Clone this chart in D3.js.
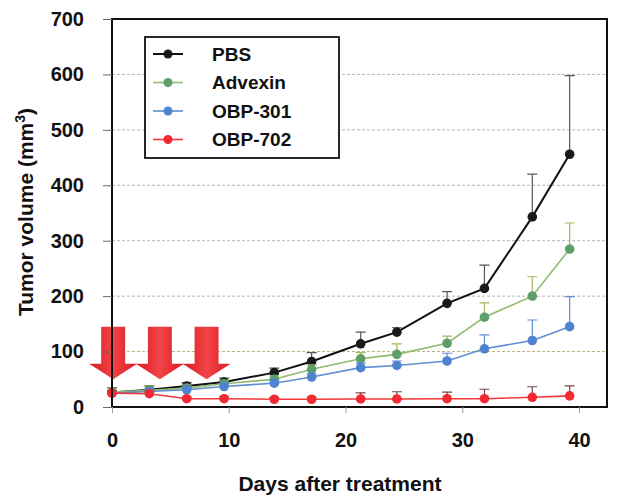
<!DOCTYPE html>
<html>
<head>
<meta charset="utf-8">
<script src="https://cdn.jsdelivr.net/npm/d3@7"></script>
<style>
  body { margin: 0; background: #fff; }
  text { font-family: "Liberation Sans", Arial, sans-serif; font-weight: bold; fill: #111; }
</style>
</head>
<body>
<script>
// days (points sit slightly right of the nominal treatment days)
var days = [0, 3.2, 6.4, 9.6, 13.9, 17.1, 21.3, 24.4, 28.7, 31.9, 36.0, 39.2];

var pbs      = [26, 31, 38, 45, 62, 82, 114, 135, 187, 214, 343, 456];
var pbsErr   = [9, 7, 6, 7, 8, 16, 21, 8, 21, 42, 77, 142];
var advexin  = [27, 30, 34, 42, 50, 68, 87, 95, 115, 162, 200, 285];
var advErr   = [7, 8, 6, 6, 6, 8, 11, 19, 13, 26, 35, 47];
var obp301   = [25, 28, 31, 37, 43, 54, 71, 75, 83, 105, 120, 145];
var obp301Err= [4, 4, 5, 5, 5, 6, 8, 8, 14, 25, 37, 54];
var obp702   = [25, 24, 15, 15, 14, 14, 14.5, 14.5, 15, 15, 17.5, 20];
var obp702Err= [4, 3, 3, 3, 3, 4, 11, 13, 12, 17, 19, 18];

var names = ["PBS", "Advexin", "OBP-301", "OBP-702"];

var yTicks = [0, 100, 200, 300, 400, 500, 600, 700];
var xTicks = [0, 10, 20, 30, 40];

// treatment arrows (day, and volume levels for top / neck / tip)
var arrowDays = [0.1, 4.1, 8.1];
var arrowTop = 145, arrowNeck = 78, arrowTip = 50;

var width = 632, height = 503;
var margin = {left: 112, right: 25, top: 18, bottom: 96};

var svg = d3.select("body").append("svg")
  .attr("width", width)
  .attr("height", height);

var x = d3.scaleLinear().domain([0, 40]).range([112, 579]);
var y = d3.scaleLinear().domain([0, 700]).range([407, 19]);
var plotRight = width - margin.right; // frame extends past the 40 tick

var series = [
  {name: names[0], values: pbs, err: pbsErr, line: "#111", dot: "#1a1a1a", bar: "#555", lw: 2},
  {name: names[1], values: advexin, err: advErr, line: "#8fbb6c", dot: "#5e9e6a", bar: "#a3b85a", lw: 1.6},
  {name: names[2], values: obp301, err: obp301Err, line: "#5d8fd2", dot: "#4f82cf", bar: "#5d8fd2", lw: 1.6},
  {name: names[3], values: obp702, err: obp702Err, line: "#f0383a", dot: "#f02a30", bar: "#7a4444", lw: 1.6}
];

// gridlines
svg.append("g").selectAll("line")
  .data(yTicks.filter(function(d){ return d > 0 && d < 700; }))
  .enter().append("line")
  .attr("x1", x(0)).attr("x2", plotRight)
  .attr("y1", function(d){ return y(d); })
  .attr("y2", function(d){ return y(d); })
  .attr("stroke", function(d){ return d === 100 ? "#b8b27a" : "#b4b4b4"; })
  .attr("stroke-width", 1)
  .attr("stroke-dasharray", "3,2");

// arrow gradient
var grad = svg.append("defs").append("linearGradient")
  .attr("id", "arrowFill").attr("x1", 0).attr("x2", 1).attr("y1", 0).attr("y2", 0);
grad.append("stop").attr("offset", "0%").attr("stop-color", "#d81c22");
grad.append("stop").attr("offset", "50%").attr("stop-color", "#f34448");
grad.append("stop").attr("offset", "100%").attr("stop-color", "#d81c22");

svg.append("g").selectAll("path")
  .data(arrowDays)
  .enter().append("path")
  .attr("fill", "url(#arrowFill)")
  .attr("d", function(d){
    var cx = x(d), sw = 12, hw = 24;
    return "M" + (cx - sw) + "," + y(arrowTop) +
      "L" + (cx + sw) + "," + y(arrowTop) +
      "L" + (cx + sw) + "," + y(arrowNeck) +
      "L" + (cx + hw) + "," + y(arrowNeck) +
      "L" + cx + "," + y(arrowTip) +
      "L" + (cx - hw) + "," + y(arrowNeck) +
      "L" + (cx - sw) + "," + y(arrowNeck) + "Z";
  });

// lines, error bars and points
var line = d3.line()
  .x(function(d, i){ return x(days[i]); })
  .y(function(d){ return y(d); });

series.forEach(function(s){
  var g = svg.append("g");
  g.append("path")
    .attr("d", line(s.values))
    .attr("fill", "none")
    .attr("stroke", s.line)
    .attr("stroke-width", s.lw);

  g.selectAll(".bar")
    .data(s.values)
    .enter().append("path")
    .attr("fill", "none")
    .attr("stroke", s.bar)
    .attr("stroke-width", 1.2)
    .attr("d", function(d, i){
      var px = x(days[i]), top = y(d + s.err[i]);
      return "M" + px + "," + y(d) + "V" + top + "M" + (px - 5) + "," + top + "H" + (px + 5);
    });

  g.selectAll("circle")
    .data(s.values)
    .enter().append("circle")
    .attr("cx", function(d, i){ return x(days[i]); })
    .attr("cy", function(d){ return y(d); })
    .attr("r", 4.8)
    .attr("fill", s.dot);
});

// frame
svg.append("rect")
  .attr("x", x(0)).attr("y", y(700))
  .attr("width", plotRight - x(0))
  .attr("height", y(0) - y(700))
  .attr("fill", "none")
  .attr("stroke", "#111")
  .attr("stroke-width", 2);

// y axis ticks and labels
var yAxis = svg.append("g")
  .attr("transform", "translate(" + x(0) + ",0)")
  .call(d3.axisLeft(y).tickValues(yTicks).tickSize(9).tickPadding(19));
yAxis.select(".domain").remove();
yAxis.selectAll("line").attr("stroke", "#666");
yAxis.selectAll("text")
  .style("font-family", "'Liberation Sans', Arial, sans-serif")
  .style("font-weight", "bold")
  .style("font-size", "20px")
  .attr("fill", "#111");

// x axis ticks and labels
var xAxis = svg.append("g")
  .attr("transform", "translate(0," + y(0) + ")")
  .call(d3.axisBottom(x).tickValues(xTicks).tickSize(6).tickPadding(20));
xAxis.select(".domain").remove();
xAxis.selectAll("line").attr("stroke", "#999");
xAxis.selectAll("text")
  .style("font-family", "'Liberation Sans', Arial, sans-serif")
  .style("font-weight", "bold")
  .style("font-size", "20px")
  .attr("fill", "#111");

// axis titles
svg.append("text")
  .attr("x", 340).attr("y", 491)
  .attr("text-anchor", "middle")
  .style("font-size", "21px")
  .text("Days after treatment");

var yt = svg.append("text")
  .attr("transform", "translate(33,212) rotate(-90)")
  .attr("text-anchor", "middle")
  .style("font-size", "21px");
yt.append("tspan").text("Tumor volume (mm");
yt.append("tspan").attr("dy", -8).style("font-size", "14px").text("3");
yt.append("tspan").attr("dy", 8).text(")");

// legend
var legend = svg.append("g");
legend.append("rect")
  .attr("x", 145).attr("y", 37)
  .attr("width", 194).attr("height", 121)
  .attr("fill", "#fff")
  .attr("stroke", "#111")
  .attr("stroke-width", 1.8);

var rows = legend.selectAll(".row")
  .data(series)
  .enter().append("g")
  .attr("transform", function(d, i){ return "translate(0," + (54 + i * 28.5) + ")"; });
rows.append("line")
  .attr("x1", 153).attr("x2", 183)
  .attr("stroke", function(d){ return d.line; })
  .attr("stroke-width", function(d){ return d.lw; });
rows.append("circle")
  .attr("cx", 168).attr("r", 4.5)
  .attr("fill", function(d){ return d.dot; });
rows.append("text")
  .attr("x", 212).attr("dy", "0.35em")
  .style("font-size", "19px")
  .text(function(d){ return d.name; });
</script>
</body>
</html>
